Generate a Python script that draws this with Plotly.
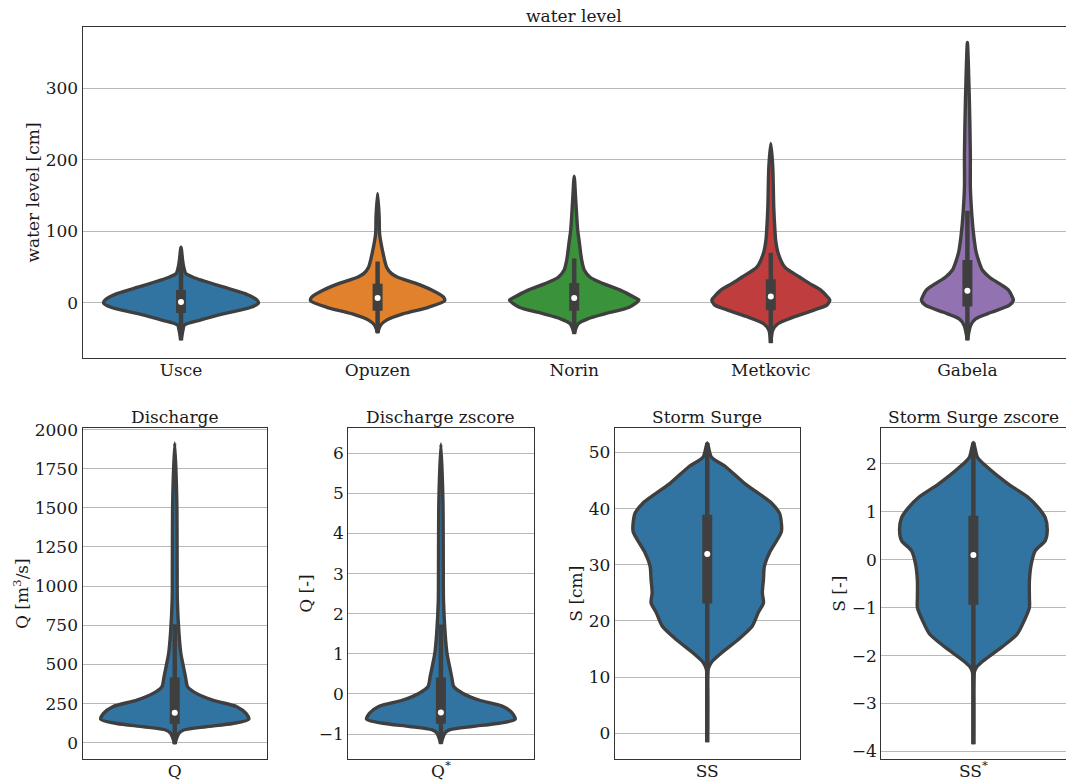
import plotly.graph_objects as go

FIG_W, FIG_H = 1066, 784
FONT = "DejaVu Serif"
EDGE = "#3f3f3f"

# ---------------- data: top panel (water level, cm) ----------------
stations = ["Usce", "Opuzen", "Norin", "Metkovic", "Gabela"]
station_colors = ["#3274a1", "#e1812c", "#3a923a", "#c03d3e", "#9372b2"]

# violin outlines: level (cm) and half width (category units), top -> bottom
usce_level = [78, 60, 50, 41, 36, 22, 13, 4, 0, -6, -15, -24, -31, -38, -52]
usce_width = [0, 0.008, 0.014, 0.025, 0.061, 0.219, 0.326, 0.387, 0.394, 0.356, 0.219, 0.097, 0.017, 0.010, 0]

opuzen_level = [153, 120, 97, 73, 50, 41, 36, 27, 18, 8, 3, -6, -15, -24, -31, -42]
opuzen_width = [0, 0.008, 0.010, 0.025, 0.046, 0.071, 0.102, 0.198, 0.275, 0.336, 0.341, 0.259, 0.132, 0.046, 0.015, 0]

norin_level = [177, 143, 101, 87, 69, 60, 46, 36, 27, 18, 8, 4, -6, -15, -22, -29, -43]
norin_width = [0, 0.008, 0.018, 0.025, 0.033, 0.038, 0.051, 0.081, 0.148, 0.234, 0.305, 0.329, 0.280, 0.158, 0.071, 0.020, 0]

metkovic_level = [223, 190, 134, 106, 87, 69, 50, 36, 27, 18, 8, 4, -3, -10, -20, -29, -38, -56]
metkovic_width = [0, 0.010, 0.015, 0.020, 0.025, 0.038, 0.071, 0.148, 0.198, 0.254, 0.290, 0.300, 0.285, 0.219, 0.112, 0.036, 0.010, 0]

gabela_level = [364, 283, 208, 162, 125, 97, 73, 60, 46, 36, 27, 18, 8, 4, -3, -13, -22, -31, -52]
gabela_width = [0, 0.010, 0.015, 0.015, 0.022, 0.031, 0.043, 0.056, 0.076, 0.112, 0.163, 0.209, 0.229, 0.234, 0.214, 0.122, 0.043, 0.017, 0]

# box statistics per station: q1, median, q3, whisker low, whisker high
station_q1 = [-14, -11, -11, -10, -5]
station_median = [1.5, 7, 7, 9, 17]
station_q3 = [18, 27, 28, 33, 60]
station_wlo = [-52, -42, -43, -56, -52]
station_whi = [66, 58, 62, 70, 129]

# ---------------- data: bottom panels ----------------
q_level = [1915, 1549, 1123, 911, 698, 570, 485, 421, 357, 315, 272, 230, 187, 149, 123, 102, 81, 60, -9]
q_width = [0, 0.011, 0.013, 0.014, 0.023, 0.033, 0.047, 0.058, 0.070, 0.117, 0.205, 0.336, 0.386, 0.401, 0.314, 0.168, 0.049, 0.022, 0]
q_stats = [119, 191, 417, -9, 757]

qz_level = [6.23, 4.81, 3.15, 2.33, 1.50, 1.01, 0.68, 0.43, 0.18, 0.02, -0.15, -0.31, -0.48, -0.63, -0.73, -0.81, -0.89, -0.97, -1.24]
qz_width = [0, 0.011, 0.013, 0.014, 0.023, 0.033, 0.047, 0.058, 0.070, 0.117, 0.205, 0.336, 0.386, 0.401, 0.314, 0.168, 0.049, 0.022, 0]
qz_stats = [-0.74, -0.46, 0.41, -1.24, 1.73]

ss_level = [51.7, 49.2, 47.5, 44.5, 42.1, 41.0, 39.2, 37.4, 35.9, 34.5, 32.1, 29.7, 27.4, 25.0, 23.2, 21.5, 19.1, 16.7, 14.4, 12.6, 11.4, -1.6]
ss_width = [0, 0.022, 0.098, 0.201, 0.304, 0.347, 0.390, 0.401, 0.401, 0.379, 0.336, 0.309, 0.304, 0.298, 0.304, 0.276, 0.244, 0.168, 0.081, 0.022, 0.005, 0]
ss_stats = [23.1, 31.9, 38.9, -1.6, 51.7]

ssz_level = [2.45, 2.14, 1.93, 1.58, 1.30, 1.09, 0.88, 0.61, 0.40, 0.19, -0.09, -0.44, -0.79, -1.00, -1.27, -1.55, -1.83, -2.11, -2.25, -2.35, -3.85]
ssz_width = [0, 0.022, 0.076, 0.190, 0.298, 0.352, 0.390, 0.401, 0.390, 0.336, 0.314, 0.304, 0.304, 0.304, 0.276, 0.238, 0.152, 0.054, 0.016, 0.005, 0]
ssz_stats = [-0.94, 0.10, 0.92, -3.85, 2.45]

bottom_titles = ["Discharge", "Discharge zscore", "Storm Surge", "Storm Surge zscore"]
bottom_xlabels = ["Q", "Q<sup>*</sup>", "SS", "SS<sup>*</sup>"]
bottom_ylabels = ["Q [m<sup>3</sup>/s]", "Q [-]", "S [cm]", "S [-]"]
bottom_color = "#3274a1"

# ---------------- figure ----------------
fig = go.Figure()


def add_violin(ax, center, levels, widths, color, q1, med, q3, wlo, whi):
    xs = [center + w for w in widths] + [center - w for w in reversed(widths)]
    ys = list(levels) + list(reversed(levels))
    xa, ya = "x" + ax, "y" + ax
    fig.add_trace(go.Scatter(
        x=xs, y=ys, mode="lines", fill="toself", fillcolor=color,
        line=dict(color=EDGE, width=3.4, shape="spline", smoothing=0.7),
        xaxis=xa, yaxis=ya, hoverinfo="skip", showlegend=False))
    fig.add_trace(go.Scatter(
        x=[center, center], y=[wlo, whi], mode="lines",
        line=dict(color=EDGE, width=4.5), xaxis=xa, yaxis=ya,
        hoverinfo="skip", showlegend=False))
    fig.add_trace(go.Scatter(
        x=[center, center], y=[q1, q3], mode="lines",
        line=dict(color=EDGE, width=10), xaxis=xa, yaxis=ya,
        hoverinfo="skip", showlegend=False))
    fig.add_trace(go.Scatter(
        x=[center], y=[med], mode="markers",
        marker=dict(color="white", size=6, line=dict(width=0)),
        xaxis=xa, yaxis=ya, hoverinfo="skip", showlegend=False))


station_levels = [usce_level, opuzen_level, norin_level, metkovic_level, gabela_level]
station_widths = [usce_width, opuzen_width, norin_width, metkovic_width, gabela_width]
for i in range(len(stations)):
    add_violin("", i, station_levels[i], station_widths[i], station_colors[i],
               station_q1[i], station_median[i], station_q3[i],
               station_wlo[i], station_whi[i])

bottom_levels = [q_level, qz_level, ss_level, ssz_level]
bottom_widths = [q_width, qz_width, ss_width, ssz_width]
bottom_stats = [q_stats, qz_stats, ss_stats, ssz_stats]
for k in range(4):
    s = bottom_stats[k]
    add_violin(str(k + 2), 0, bottom_levels[k], bottom_widths[k], bottom_color,
               s[0], s[1], s[2], s[3], s[4])


def px_x(p):
    return p / FIG_W


def px_y(p):
    return 1 - p / FIG_H


tickfont = dict(family=FONT, size=17, color="#1a1a1a")
titlefont = dict(family=FONT, size=17, color="#1a1a1a")
frame = dict(showline=True, mirror=True, linecolor="#333333", linewidth=1.25,
             zeroline=False, ticks="", tickfont=tickfont, automargin=False)
grid = dict(showgrid=True, gridcolor="#b8b8b8", gridwidth=1)

top_dom_y = [px_y(358.3), px_y(26.7)]
bot_dom_y = [px_y(759), px_y(428.3)]
bot_dom_x = [[82.5, 267], [348.3, 533.5], [614.8, 799.7], [881.3, 1065.5]]
bot_ranges = [[-104, 2008], [-1.62, 6.62], [-4.6, 54.3], [-4.16, 2.745]]
bot_ticks = [list(range(0, 2001, 250)), list(range(-1, 7)), list(range(0, 51, 10)), list(range(-4, 3))]

layout = dict(
    width=FIG_W, height=FIG_H,
    margin=dict(l=0, r=0, t=0, b=0, pad=0, autoexpand=False),
    paper_bgcolor="white", plot_bgcolor="white",
    showlegend=False,
    font=dict(family=FONT, size=17, color="#1a1a1a"),
)
layout["xaxis"] = dict(domain=[px_x(82.7), px_x(1065.7)], range=[-0.5, 4.5],
                       tickvals=list(range(len(stations))), ticktext=stations,
                       showgrid=False, anchor="y", ticklabelstandoff=-4, **frame)
layout["yaxis"] = dict(domain=top_dom_y, range=[-77.3, 386], tickvals=[0, 100, 200, 300],
                       anchor="x", ticklabelstandoff=0,
                       title=dict(text="water level [cm]", font=titlefont, standoff=1),
                       **grid, **frame)
for k in range(4):
    n = str(k + 2)
    layout["xaxis" + n] = dict(domain=[px_x(bot_dom_x[k][0]), px_x(bot_dom_x[k][1])],
                               range=[-0.5, 0.5], tickvals=[0], ticktext=[bottom_xlabels[k]],
                               showgrid=False, anchor="y" + n, ticklabelstandoff=-4, **frame)
    layout["yaxis" + n] = dict(domain=bot_dom_y, range=bot_ranges[k], tickvals=bot_ticks[k],
                               anchor="x" + n, ticklabelstandoff=0,
                               title=dict(text=bottom_ylabels[k], font=titlefont, standoff=1),
                               **grid, **frame)

annotations = [dict(text="water level", x=px_x((82.7 + 1065.7) / 2), y=px_y(26.7),
                    xref="paper", yref="paper", xanchor="center", yanchor="bottom",
                    showarrow=False, font=titlefont, borderpad=0)]
for k in range(4):
    annotations.append(dict(text=bottom_titles[k],
                            x=px_x((bot_dom_x[k][0] + bot_dom_x[k][1]) / 2),
                            y=px_y(428.3),
                            xref="paper", yref="paper", xanchor="center", yanchor="bottom",
                            showarrow=False, font=titlefont, borderpad=0))
layout["annotations"] = annotations

fig.update_layout(**layout)
fig.write_html("out.html")
